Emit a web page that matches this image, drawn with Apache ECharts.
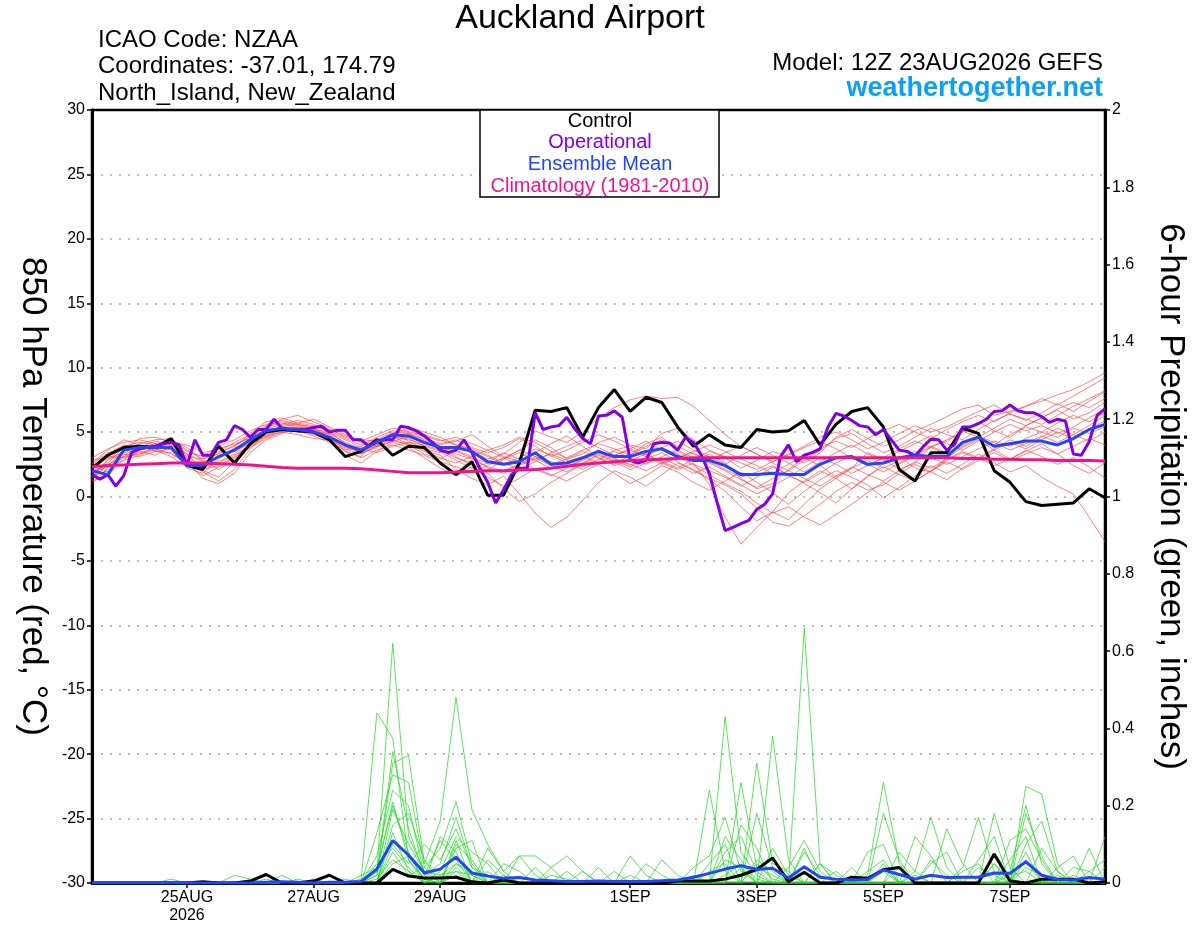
<!DOCTYPE html>
<html>
<head>
<meta charset="utf-8">
<title>Auckland Airport - GEFS</title>
<script src="https://cdn.jsdelivr.net/npm/echarts@6/dist/echarts.min.js"></script>
<style>
html, body { margin: 0; padding: 0; background: #fff; }
#chart { width: 1200px; height: 927px; }
</style>
</head>
<body>
<div id="chart"></div>
<script>
// forecast hours of the labelled days, 12Z 23AUG2026 = hour 0
var tickHours = [36, 84, 132, 204, 252, 300, 348];
var tickLabels = ['25AUG\n2026', '27AUG', '29AUG', '1SEP', '3SEP', '5SEP', '7SEP'];

// 850 hPa temperature, 6-hourly
var control = [
  2.2,3.2,3.8,3.9,3.8,4.5,2.4,2.1,3.9,2.6,
  4.1,5.0,5.2,5.1,5.0,4.4,3.1,3.5,4.4,3.2,
  3.9,3.8,2.6,1.7,2.7,0.1,0.1,2.6,6.7,6.6,
  6.9,4.6,6.9,8.3,6.6,7.7,7.3,5.4,3.9,4.8,
  4.0,3.8,5.2,5.0,5.1,5.9,4.0,5.6,6.6,6.9,
  5.4,2.1,1.2,3.4,3.4,5.3,4.9,2.0,1.1,-0.4,
  -0.7,-0.6,-0.5,0.6,-0.1];
var ensMean = [
  2.0,1.7,3.6,3.8,3.8,3.8,2.4,2.4,3.1,3.6,
  4.4,5.1,5.3,5.2,5.0,4.6,4.0,3.6,4.2,4.8,
  4.7,4.2,3.8,3.8,3.5,2.7,2.5,2.7,3.4,2.5,
  2.6,3.0,3.5,3.1,3.1,3.5,3.7,3.1,2.8,2.8,
  2.4,1.7,1.7,1.8,1.7,1.7,2.5,3.0,3.1,2.5,
  2.6,3.0,3.2,3.1,3.1,4.2,4.6,3.9,4.1,4.3,
  4.3,4.0,4.5,5.2,5.6];
var climo = [
  2.3,2.4,2.45,2.5,2.55,2.6,2.6,2.6,2.55,2.5,
  2.45,2.35,2.25,2.2,2.2,2.2,2.2,2.15,2.05,1.95,
  1.85,1.85,1.85,1.9,1.95,2.0,2.0,2.05,2.1,2.2,
  2.35,2.5,2.6,2.7,2.8,2.85,2.9,2.95,3.0,3.0,
  3.0,3.0,3.0,3.0,3.0,3.0,3.0,3.0,3.0,3.0,
  3.0,3.0,3.0,3.0,3.0,2.95,2.95,2.9,2.9,2.85,
  2.85,2.8,2.8,2.8,2.75];
// operational run, 3-hourly
var operational = [
  1.7,1.35,1.7,0.8,1.6,3.4,3.7,3.8,3.9,4.1,
  4.2,4.0,2.4,4.4,3.2,3.2,4.2,4.4,5.5,5.2,
  4.6,5.2,5.2,6.0,5.3,5.2,5.2,5.2,5.35,5.45,
  5.0,5.15,5.15,4.4,4.4,3.9,4.3,4.4,4.4,5.45,
  5.35,5.1,4.7,4.2,3.6,3.4,3.6,4.4,3.4,2.2,
  1.1,-0.5,0.5,1.7,2.2,2.2,6.5,5.2,5.4,5.5,
  6.15,5.25,4.5,4.1,6.25,6.3,6.65,6.15,2.8,2.6,
  2.8,4.1,4.2,4.15,3.6,4.6,4.2,3.2,1.8,-0.5,
  -2.65,-2.4,-2.1,-1.85,-1.0,-0.6,0.2,3.1,4.0,2.7,
  3.2,3.4,3.7,5.4,6.45,6.25,5.9,5.5,5.4,4.8,
  5.2,4.4,3.6,3.5,3.15,3.85,4.45,4.4,3.6,4.05,
  5.4,5.4,5.65,6.0,6.6,6.65,7.1,6.65,6.5,6.5,
  6.2,5.75,6.0,5.85,3.3,3.2,4.25,6.3,6.8];

// ensemble members, 6-hourly
var m01 = [1.5,2.8,3.9,4.2,4.0,3.6,2.2,1.8,2.9,3.8, 4.9,5.8,6.1,5.7,5.5,5.0,4.1,3.3,3.9,4.8, 5.2,4.6,3.9,3.1,2.4,2.0,2.9,3.6,4.4,3.8, 2.9,3.3,4.2,4.6,4.0,3.7,4.9,5.3,4.4,3.6, 3.0,2.2,2.8,3.5,3.1,2.6,3.4,4.6,5.2,4.5, 3.9,4.4,5.1,5.6,6.2,6.8,7.1,6.3,6.6,7.0, 7.4,7.9,8.3,8.9,9.6];
var m02 = [2.4,1.9,3.1,3.6,3.9,4.1,3.3,2.0,1.5,2.7, 3.9,4.6,5.1,5.4,5.3,4.8,3.5,3.1,4.4,5.0, 4.3,3.6,3.2,2.1,1.4,0.9,1.6,0.2,-1.3,-2.4, -1.6,-0.3,1.1,2.0,1.5,0.8,1.7,2.6,2.1,1.3, 0.4,-0.8,-1.9,-1.2,0.3,1.2,2.0,1.4,0.6,1.5, 2.6,3.1,2.2,1.9,3.0,3.8,4.4,3.6,2.9,3.5, 4.1,3.3,2.4,1.8,2.6];
var m03 = [1.0,2.2,3.5,4.1,4.4,4.5,3.6,2.9,3.3,4.0, 4.6,5.2,5.6,5.9,5.6,5.1,4.5,4.0,4.6,5.1, 4.9,4.4,4.0,4.3,4.8,3.9,3.1,2.7,3.4,4.1, 4.7,3.9,3.0,2.5,3.2,4.1,4.6,3.5,2.8,3.3, 2.6,1.4,0.6,1.0,2.1,3.0,2.4,1.5,2.2,3.4, 2.9,2.1,2.6,3.9,4.3,5.0,5.8,5.1,4.6,5.5, 6.1,6.7,6.0,6.5,7.3];
var m04 = [2.8,3.1,3.0,3.4,3.7,3.3,2.6,2.4,3.1,3.6, 4.1,4.8,5.2,5.0,4.9,4.6,3.9,3.4,3.8,4.3, 4.1,3.7,3.4,3.9,3.5,2.9,3.3,4.2,5.1,4.6, 4.2,5.0,6.1,6.9,7.5,7.8,7.6,7.7,7.0,5.9, 4.8,3.9,3.3,2.6,2.0,2.8,3.6,4.5,4.9,4.1, 3.4,3.9,4.6,5.3,4.8,4.4,5.2,5.9,6.4,6.0, 5.6,6.3,7.0,7.6,8.2];
var m05 = [1.8,2.6,3.8,3.9,3.5,3.7,3.0,1.9,1.2,2.1, 3.7,4.9,5.4,5.1,4.7,4.2,3.6,3.9,4.5,4.4, 4.0,3.3,2.9,3.6,3.1,2.2,1.8,2.5,3.0,2.4, 1.9,2.6,3.3,2.8,2.3,2.9,3.4,2.7,2.0,1.4, 0.9,0.2,-0.9,-2.0,-2.3,-1.5,-0.6,0.4,1.1,0.5, 0.9,1.8,2.5,1.9,1.3,2.2,3.0,2.4,2.9,3.6, 3.1,2.5,3.0,2.3,1.4];
var m06 = [2.2,3.3,4.0,3.7,4.1,4.3,3.5,3.1,3.9,4.4, 5.1,5.6,5.8,5.5,5.2,5.0,4.4,3.8,4.0,4.9, 5.3,5.0,4.6,4.0,3.6,3.1,2.5,3.0,3.7,3.2, 2.6,2.1,2.8,3.6,3.9,3.3,2.7,2.2,2.9,3.5, 3.1,2.6,2.1,2.7,3.3,3.9,4.6,5.0,4.4,3.7, 4.2,4.9,5.5,5.0,5.4,6.0,6.6,7.1,6.4,5.9, 6.5,7.2,6.6,7.4,8.1];
var m07 = [1.2,1.6,2.9,3.5,3.2,3.9,2.7,1.4,1.0,1.8, 3.4,4.4,4.9,5.3,5.0,4.3,3.2,2.6,3.5,4.2, 3.8,3.0,2.2,1.6,2.3,1.5,0.8,1.4,2.2,1.7, 1.2,1.9,2.5,1.8,1.0,1.6,2.4,1.9,1.1,0.5, 1.2,1.9,1.1,0.3,-0.6,0.4,1.3,2.0,1.5,0.9, -0.1,0.7,1.6,2.4,1.8,2.5,3.3,2.6,1.9,2.4, 1.5,0.8,0.2,-1.6,-3.5];
var m08 = [2.6,3.6,4.4,4.0,3.8,4.2,4.0,3.4,3.7,4.1, 4.5,5.0,5.5,5.7,6.0,5.4,4.8,4.2,3.9,4.5, 4.8,4.5,4.1,4.4,3.8,3.4,3.8,4.5,3.9,3.1, 3.6,4.2,4.8,4.3,3.7,3.2,3.8,4.3,3.6,3.1, 2.5,3.2,3.8,3.2,2.6,1.9,2.7,3.4,4.0,3.3, 2.8,3.5,4.1,4.7,4.1,3.6,4.3,5.0,5.6,5.1, 5.5,4.9,5.4,6.1,6.8];
var m09 = [1.6,2.0,3.2,3.8,4.3,4.0,2.9,2.2,2.6,3.2, 4.0,4.7,5.0,4.8,4.5,4.4,3.8,3.5,4.2,4.7, 4.5,3.9,3.5,2.8,2.2,2.6,3.4,2.9,2.1,1.6, 2.2,2.9,3.6,3.0,2.4,3.1,3.8,3.3,2.5,2.0, 1.5,0.8,1.5,2.3,1.7,1.0,0.3,-0.5,0.6,1.6, 2.3,1.7,1.2,2.0,2.8,3.4,2.9,3.6,4.2,3.7, 4.4,5.0,4.5,5.2,5.9];
var m10 = [2.0,2.4,3.6,4.5,4.6,4.2,3.3,2.7,3.0,3.7, 4.4,5.3,6.0,6.3,5.8,5.3,4.6,4.3,4.8,5.3, 5.0,4.8,4.4,4.0,3.7,3.2,2.6,2.1,2.7,3.4, 3.9,4.4,3.8,3.2,3.7,4.3,3.6,3.0,3.5,4.0, 3.5,2.9,2.4,1.8,2.5,3.2,3.8,4.3,3.8,4.5, 5.1,5.6,5.0,4.5,5.2,5.8,6.3,5.8,6.5,7.0, 7.6,7.1,7.8,8.5,9.2];
var m11 = [1.4,2.9,3.3,3.1,3.5,3.4,2.5,1.6,2.3,3.0, 3.8,4.5,5.0,5.2,4.8,4.4,3.5,3.0,3.6,4.0, 3.6,3.2,2.7,2.3,1.9,2.4,3.0,3.6,3.1,2.5, 2.9,3.5,3.0,2.4,2.8,3.3,2.6,2.1,2.6,0.9, -1.6,-3.7,-2.4,-1.2,-1.8,-0.6,0.6,1.4,2.2,2.8, 2.2,2.8,3.5,3.0,2.5,3.1,3.7,4.3,3.9,4.5, 5.0,4.6,5.3,4.9,5.4];
var m12 = [2.5,3.4,3.7,3.9,3.6,3.1,2.3,2.5,3.4,3.9, 4.7,5.4,5.7,5.3,5.0,4.9,4.2,3.7,3.4,3.9, 4.2,4.0,3.6,3.0,2.6,1.8,0.6,-0.4,0.2,1.1, 1.8,2.5,3.2,2.7,2.1,2.6,3.0,2.4,1.8,2.3, 1.6,0.9,0.2,0.8,1.5,2.3,3.0,2.5,1.8,2.4, 3.0,2.5,3.2,3.8,3.3,3.9,4.5,4.0,4.8,5.4, 5.0,5.7,6.3,5.8,6.5];
var m13 = [1.9,2.3,2.8,3.2,3.9,4.4,3.8,2.8,2.1,2.9, 4.2,5.1,5.3,5.0,5.2,4.5,3.7,3.3,4.0,4.6, 4.4,4.1,3.8,3.5,3.0,2.6,2.9,3.4,2.8,2.2, 2.7,3.1,2.6,3.2,3.6,3.1,2.5,3.0,3.4,2.7, 2.1,1.5,1.9,2.4,1.6,1.1,1.8,2.6,3.2,2.5, 1.9,2.6,3.3,3.9,3.4,4.0,4.7,4.2,3.6,4.1, 4.7,4.2,4.8,5.5,6.3];
var m14 = [2.1,3.0,3.4,3.6,4.0,3.8,2.8,2.3,2.7,3.3, 4.3,5.0,5.4,5.6,5.3,4.6,3.9,3.6,3.9,4.3, 4.6,4.2,3.7,3.3,2.9,2.3,2.0,2.5,3.1,2.7, 2.3,2.8,3.4,2.9,2.5,2.0,2.6,3.1,2.4,1.7, 1.0,0.4,-0.5,-1.3,-0.8,-1.6,-2.2,-1.4,-0.6,0.3, 1.1,0.5,1.2,2.0,2.7,2.1,2.8,3.4,2.8,3.3, 3.8,3.3,3.9,4.5,4.0];
var m15 = [3.0,3.7,4.2,4.4,4.1,3.7,3.1,2.9,3.5,4.2, 4.8,5.5,5.9,5.6,5.4,5.2,4.7,4.4,4.3,4.8, 4.9,4.7,4.3,4.6,4.1,3.6,4.0,4.6,4.2,3.5, 3.0,3.6,4.1,3.7,3.2,3.9,4.4,3.9,3.3,2.8, 3.4,3.9,3.3,2.7,3.2,3.8,4.3,3.7,3.0,2.4, 3.0,3.7,4.3,3.8,4.4,5.1,4.6,5.3,6.0,5.5, 6.1,6.8,7.3,6.9,7.6];
var m16 = [1.3,2.5,3.1,3.3,3.6,4.0,3.2,2.1,2.4,3.1, 4.0,4.7,5.2,5.4,5.1,4.8,4.0,3.6,4.2,4.6, 4.1,3.5,3.0,2.6,3.1,3.6,3.0,2.4,2.9,3.3, 2.8,2.3,2.9,3.5,3.0,2.5,3.1,3.6,3.0,2.6, 2.0,1.3,0.7,1.4,2.0,1.4,0.8,1.6,2.3,1.7, 1.2,2.0,2.7,2.2,2.9,3.5,3.0,3.7,4.4,3.9, 4.6,5.3,4.8,4.3,5.0];
var tempMembers = [m01, m02, m03, m04, m05, m06, m07, m08, m09, m10, m11, m12, m13, m14, m15, m16];

// 6-hour precipitation (inches)
var ctrlPrecip = [0,0,0,0,0, 0,0,.003,0,0, .005,.022,0,0,.005, .02,0,0,0,.035, .018,.013,.013,.015,.003, 0,.008,0,0,0, 0,0,0,0,0, 0,0,.005,.005,.005, .01,.02,.035,.065,.003, .028,0,0,.015,.012, .034,.04,0,0,0, 0,0,.075,.005,0, .01,.01,.01,0,.003];
var meanPrecip = [0,0,0,0,0, 0,0,0,0,0, 0,.002,.003,.002,0, .002,.002,.004,.036,.11, .072,.026,.036,.067,.026, .018,.012,.014,.008,.006, .004,.004,.005,.004,.004, .004,.006,.008,.015,.025, .036,.045,.035,.038,.013, .042,.015,.01,.008,.009, .034,.022,.01,.02,.014, .015,.015,.026,.025,.055, .02,.009,.008,.014,.01];
var p01 = [0,0,0,0,0, 0,0,0,0,0, 0,0,0,0,0, 0,0,0,.03,.62, .12,.03,.02,.05,.02, 0,0,0,0,0, 0,0,0,0,0, 0,0,0,0,0, .02,.05,.01,0,0, .08,.02,0,0,0, .03,0,0,0,0, 0,0,.05,.01,0, 0,0,0,0,0];
var p02 = [0,0,0,0,0, 0,0,0,0,0, 0,0,0,0,0, 0,0,.01,.44,.375, .06,.01,0,.04,0, 0,.02,0,0,0, 0,0,0,0,0, 0,0,0,0,.24, .03,0,.05,.01,0, 0,0,0,0,.02, .26,.05,0,0,0, 0,0,0,0,.04, .02,0,0,0,0];
var p03 = [0,0,0,0,0, 0,0,0,0,0, 0,0,0,0,0, 0,0,0,.02,.31, .33,.05,.16,.48,.19, .1,.03,0,0,.04, 0,0,0,0,0, 0,0,0,0,0, .43,.08,.02,0,0, 0,0,0,0,0, 0,0,.03,.17,.04, 0,0,0,0,.25, .23,.05,0,0,0];
var p04 = [0,0,0,0,0, 0,0,0,0,0, 0,0,0,0,0, 0,.01,0,.13,.28, .26,.04,.09,.21,.05, 0,0,0,0,0, 0,.03,0,0,0, 0,0,0,0,0, 0,.26,.04,.02,0, .66,.05,0,0,0, 0,0,0,0,0, .04,.17,.03,0,0, 0,0,0,.09,0];
var p05 = [0,0,0,0,0, 0,0,0,0,0, 0,0,0,0,0, 0,0,0,.07,.24, .2,.02,.05,.17,.04, .02,0,.07,.02,0, 0,0,0,0,0, 0,0,0,0,0, 0,0,.31,.05,.03, 0,0,0,0,0, .18,.06,0,0,0, 0,0,.18,.04,0, 0,0,0,0,.12];
var p06 = [0,0,0,0,0, 0,0,0,0,0, 0,0,0,0,0, 0,0,.02,.04,.2, .08,0,.03,.12,.08, .05,0,0,0,0, 0,0,0,0,.02, 0,0,0,0,0, 0,0,0,.38,.06, 0,0,.03,0,0, 0,0,0,0,.14, .05,0,0,0,.18, .07,0,.02,0,0];
var p07 = [0,0,0,0,0, 0,0,0,0,0, 0,0,0,0,0, 0,0,0,0,.15, .18,.06,0,.09,.11, 0,.05,.03,0,0, 0,0,0,0,0, .05,.02,0,0,0, .12,.06,0,0,0, .09,0,0,.04,0, 0,0,.12,.07,0, 0,0,0,.11,.14, .06,0,0,0,0];
var p08 = [0,0,0,0,0, 0,0,0,0,0, 0,0,0,.01,0, 0,0,0,0,.1, .05,.1,.06,.14,.04, 0,0,0,0,0, .03,0,0,0,0, 0,0,0,.04,.07, .17,.03,0,0,0, 0,0,0,0,.08, .1,0,0,0,0, 0,.06,.12,0,0, 0,.04,.07,0,0];
var p09 = [0,0,0,0,0, 0,0,0,0,.02, .01,0,0,0,0, 0,0,0,.02,.34, .14,.02,.11,.06,0, 0,0,0,.04,0, 0,0,0,0,0, 0,0,0,0,0, 0,.15,.09,0,0, 0,.05,0,0,0, 0,.08,.03,0,0, 0,0,0,0,.1, .16,.03,0,0,0];
var p10 = [0,0,0,0,0, 0,0,0,0,0, 0,0,0,0,0, 0,0,0,.01,.06, .03,0,.12,.08,0, .06,.02,0,0,0, 0,0,0,.03,0, 0,0,0,0,.05, .1,0,.18,.04,0, 0,0,0,0,0, 0,0,0,.05,.08, 0,0,0,.06,.12, 0,0,0,0,.04];
var p11 = [0,0,0,0,0, .01,0,0,0,0, 0,0,.02,0,0, 0,0,0,0,.19, .1,.03,0,.1,.06, 0,0,0,0,0, 0,0,.04,0,0, 0,0,0,0,0, .06,.04,0,0,0, .03,0,0,0,0, .04,0,0,0,0, 0,0,.05,0,.08, 0,0,0,.03,.06];
var p12 = [0,0,0,0,0, 0,0,0,0,0, 0,0,0,0,0, 0,0,0,.05,.09, .04,0,0,.05,.03, 0,0,0,0,0, 0,0,0,0,0, 0,.06,.02,0,0, 0,0,0,.09,.02, 0,.05,.02,0,0, 0,0,0,0,0, .03,.05,0,0,0, .09,.03,0,0,0];
var p13 = [0,0,0,0,0, 0,0,0,0,0, 0,0,0,0,.01, 0,0,0,0,.05, .07,.01,0,.03,0, 0,0,0,0,0, 0,0,0,0,.07, .02,0,0,0,0, .08,.12,.03,0,0, 0,0,0,0,.03, .06,0,0,0,0, 0,0,0,.03,.2, .05,0,0,0,0];
var p14 = [0,0,0,0,0, 0,0,0,0,0, 0,0,0,0,0, 0,0,0,0,.13, .03,0,.02,.03,.02, 0,0,0,0,.02, .01,0,0,0,0, 0,0,0,0,0, 0,0,.06,.03,0, 0,0,0,0,0, 0,0,0,.06,.02, 0,0,0,0,0, 0,0,.04,.03,0];
var p15 = [0,0,0,0,0, 0,0,0,0,0, 0,0,0,0,0, 0,0,0,.03,.21, .06,0,0,.11,0, .03,0,0,0,0, 0,0,0,0,0, 0,0,0,0,.03, .05,0,0,0,.04, .11,.03,0,0,0, 0,.04,0,0,0, 0,.04,.02,0,.06, 0,0,0,0,0];
var p16 = [0,0,0,0,0, 0,0,0,0,0, 0,.01,0,0,0, 0,0,0,0,.08, .02,.04,0,.02,0, .09,.03,.07,.07,.04, .07,.03,0,0,0, 0,0,0,.02,0, 0,.04,0,0,0, 0,0,0,0,0, .05,0,.02,0,0, 0,0,0,.02,.03, 0,.02,0,0,0];
var precipMembers = [p01, p02, p03, p04, p05, p06, p07, p08, p09, p10, p11, p12, p13, p14, p15, p16];

var FONT = '"Liberation Sans", Arial, Helvetica, sans-serif';

function toPairs(values, stepHours) {
  var out = [];
  for (var i = 0; i < values.length; i++) {
    out.push([i * stepHours, values[i]]);
  }
  return out;
}

function lineSeries(values, step, color, width, yIndex, z, opacity) {
  return {
    type: 'line',
    yAxisIndex: yIndex,
    data: toPairs(values, step),
    showSymbol: false,
    symbol: 'none',
    silent: true,
    z: z,
    lineStyle: { color: color, width: width, opacity: opacity == null ? 1 : opacity },
    emphasis: { disabled: true }
  };
}

var series = [];
for (var i = 0; i < tempMembers.length; i++) {
  series.push(lineSeries(tempMembers[i], 6, '#ff3b3b', 0.8, 0, 2, 0.8));
}
for (var j = 0; j < precipMembers.length; j++) {
  series.push(lineSeries(precipMembers[j], 6, '#1fd81f', 0.8, 1, 2, 0.9));
}
series.push(lineSeries(ctrlPrecip, 6, '#000000', 3, 1, 3));
series.push(lineSeries(meanPrecip, 6, '#2244ff', 3, 1, 4));
series.push(lineSeries(control, 6, '#000000', 3, 0, 5));
series.push(lineSeries(operational, 3, '#8200e6', 3, 0, 6));
series.push(lineSeries(ensMean, 6, '#2244ff', 3, 0, 7));
series.push(lineSeries(climo, 6, '#f0148c', 3, 0, 8));

function txt(x, y, text, size, color, align, weight) {
  return {
    type: 'text', x: x, y: y, silent: true, z: 21,
    style: {
      text: text, fill: color, align: align, verticalAlign: 'middle',
      font: (weight || 'normal') + ' ' + size + 'px ' + FONT
    }
  };
}

var chart = echarts.init(document.getElementById('chart'));
chart.setOption({
  animation: false,
  backgroundColor: '#ffffff',
  grid: { left: 92, right: 95, top: 110, bottom: 44, show: true, borderColor: '#000', borderWidth: 2.5, backgroundColor: 'transparent' },
  xAxis: {
    type: 'value', min: 0, max: 384,
    axisLine: { show: true, onZero: false, lineStyle: { color: '#000', width: 3 } },
    axisTick: { show: true, customValues: tickHours, length: 5, lineStyle: { color: '#000', width: 1.5 } },
    axisLabel: {
      customValues: tickHours, color: '#000', fontSize: 16, fontFamily: FONT, margin: 6, lineHeight: 18,
      formatter: function (v) { var k = tickHours.indexOf(v); return k >= 0 ? tickLabels[k] : ''; }
    },
    splitLine: { show: false }
  },
  yAxis: [{
    type: 'value', min: -30, max: 30, interval: 5, position: 'left',
    name: '850 hPa Temperature (red, \u00B0C)', nameLocation: 'middle', nameGap: 42, nameRotate: -90,
    nameTextStyle: { color: '#000', fontSize: 35, fontFamily: FONT },
    axisLine: { show: true, lineStyle: { color: '#000', width: 3 } },
    axisTick: { show: true, length: 5, lineStyle: { color: '#000', width: 1.5 } },
    axisLabel: { color: '#000', fontSize: 16, fontFamily: FONT, margin: 7 },
    splitLine: { show: true, showMinLine: false, showMaxLine: false, lineStyle: { color: '#a8a8a8', width: 1.5, type: [2, 7] } }
  }, {
    type: 'value', min: 0, max: 2, interval: 0.2, position: 'right',
    name: '6-hour Precipitation (green, inches)', nameLocation: 'middle', nameGap: 48, nameRotate: -90,
    nameTextStyle: { color: '#000', fontSize: 35, fontFamily: FONT },
    axisLine: { show: true, lineStyle: { color: '#000', width: 3 } },
    axisTick: { show: true, length: 5, lineStyle: { color: '#000', width: 1.5 } },
    axisLabel: { color: '#000', fontSize: 16, fontFamily: FONT, margin: 7 },
    splitLine: { show: false }
  }],
  graphic: [
    txt(580, 19, 'Auckland Airport', 34, '#000', 'center'),
    txt(98, 40, 'ICAO Code: NZAA', 24, '#000', 'left'),
    txt(98, 66, 'Coordinates: -37.01, 174.79', 24, '#000', 'left'),
    txt(98, 93, 'North_Island, New_Zealand', 24, '#000', 'left'),
    txt(1103, 63, 'Model: 12Z 23AUG2026 GEFS', 24, '#000', 'right'),
    txt(1103, 89, 'weathertogether.net', 27, '#0aa0f5', 'right', 'bold'),
    {
      type: 'rect', silent: true, z: 20,
      shape: { x: 480, y: 110, width: 239, height: 87 },
      style: { fill: '#fff', stroke: '#000', lineWidth: 1.5 }
    },
    txt(600, 121, 'Control', 20, '#000', 'center'),
    txt(600, 142, 'Operational', 20, '#8200e6', 'center'),
    txt(600, 164, 'Ensemble Mean', 20, '#2244ff', 'center'),
    txt(600, 186, 'Climatology (1981-2010)', 20, '#f0148c', 'center')
  ],
  series: series
});
</script>
</body>
</html>
